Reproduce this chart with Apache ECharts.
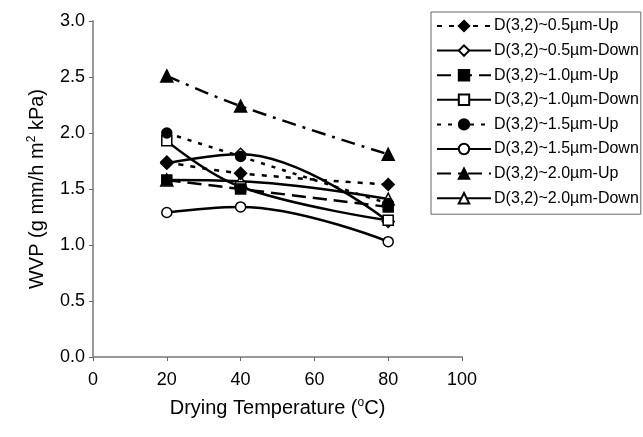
<!DOCTYPE html>
<html><head><meta charset="utf-8">
<script src="https://cdn.jsdelivr.net/npm/echarts@6/dist/echarts.min.js"></script>
<style>html,body{margin:0;padding:0;background:#fff}#c{width:643px;height:437px}</style>
</head><body><div id="c"></div>
<script>
const temps = [20, 40, 80];
const seriesNames = [
  'D(3,2)~0.5µm-Up','D(3,2)~0.5µm-Down','D(3,2)~1.0µm-Up','D(3,2)~1.0µm-Down',
  'D(3,2)~1.5µm-Up','D(3,2)~1.5µm-Down','D(3,2)~2.0µm-Up','D(3,2)~2.0µm-Down'
];
const up05 = [1.74, 1.64, 1.54];
const down05 = [1.73, 1.81, 1.21];
const up10 = [1.58, 1.50, 1.34];
const down10 = [1.93, 1.52, 1.22];
const up15 = [2.00, 1.79, 1.37];
const down15 = [1.29, 1.34, 1.03];
const up20 = [2.51, 2.24, 1.81];
const down20 = [1.58, 1.57, 1.41];
const yTicks = [0, 0.5, 1.0, 1.5, 2.0, 2.5, 3.0];
const xTicks = [0, 20, 40, 60, 80, 100];

const values = [up05, down05, up10, down10, up15, down15, up20, down20];
const styles = [
  {sym:'diamond', fill:'#000', dash:[5,7], size:12, z:10},
  {sym:'diamond', fill:'#fff', dash:'solid', size:12, z:4},
  {sym:'rect', fill:'#000', dash:[14,7], size:10, z:11},
  {sym:'rect', fill:'#fff', dash:'solid', size:10, z:5},
  {sym:'circle', fill:'#000', dash:[4,7], size:10, z:12},
  {sym:'circle', fill:'#fff', dash:'solid', size:10, z:6},
  {sym:'triangle', fill:'#000', dash:[14,7,3,7], size:12, z:13},
  {sym:'triangle', fill:'#fff', dash:'solid', size:12, z:3}
];
const series = values.map((v, i) => ({
  name: seriesNames[i],
  type: 'line',
  smooth: 0.4,
  data: temps.map((t, j) => [t, v[j]]),
  symbol: styles[i].sym,
  symbolSize: styles[i].size,
  lineStyle: {color:'#000', width:2.5, type: styles[i].dash},
  itemStyle: {color: styles[i].fill, borderColor:'#000', borderWidth:1.5},
  z: styles[i].z
}));

const chart = echarts.init(document.getElementById('c'), null, {renderer:'canvas'});
chart.setOption({
  animation:false,
  backgroundColor:'#fff',
  textStyle:{fontFamily:'Liberation Sans, Arial, sans-serif', color:'#000'},
  grid:{left:93, right:181, top:21, bottom:80},
  xAxis:{
    type:'value', min:0, max:100, interval:20,
    name:'Drying Temperature ({sup|o}C)', nameLocation:'middle', nameGap:40,
    nameTextStyle:{fontSize:20, color:'#000', rich:{sup:{fontSize:12, verticalAlign:'top', padding:[0,0,10,0], color:'#000'}}},
    axisLine:{lineStyle:{color:'#999', width:2}},
    axisTick:{show:true, length:4, lineStyle:{color:'#666'}},
    axisLabel:{fontSize:18, color:'#000', margin:14},
    splitLine:{show:false}
  },
  yAxis:{
    type:'value', min:0, max:3, interval:0.5,
    name:'WVP (g mm/h m{sup|2} kPa)', nameLocation:'middle', nameGap:45, nameRotate:90,
    nameTextStyle:{fontSize:20, color:'#000', rich:{sup:{fontSize:12, padding:[0,0,10,0], color:'#000'}}},
    axisLine:{show:true, lineStyle:{color:'#999', width:2}},
    axisTick:{show:true, length:4, lineStyle:{color:'#666'}},
    axisLabel:{fontSize:18, color:'#000', margin:8, formatter:v=>v.toFixed(1)},
    splitLine:{show:false}
  },
  legend:{
    orient:'vertical', left:431, top:12,
    data: seriesNames,
    itemWidth:54, itemHeight:13, itemGap:8.6,
    padding:[6, 2, 8, 5],
    borderColor:'#666', borderWidth:1,
    textStyle:{fontSize:16, color:'#000', padding:[0,0,0,-2]}
  },
  series: series
});
</script></body></html>
